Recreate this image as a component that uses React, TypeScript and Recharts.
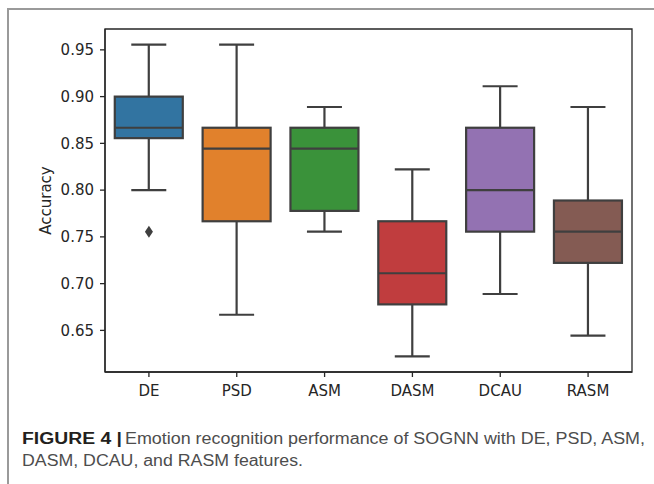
import React from "react";
import {
  ComposedChart,
  Bar,
  Scatter,
  XAxis,
  YAxis,
  ReferenceArea,
} from "recharts";

// five-number summaries
const categories = ["DE", "PSD", "ASM", "DASM", "DCAU", "RASM"];
const whiskerLow = [0.8, 0.6667, 0.7556, 0.6222, 0.6889, 0.6444];
const quartile1 = [0.8556, 0.7667, 0.7778, 0.6778, 0.7556, 0.7222];
const medians = [0.8667, 0.8444, 0.8444, 0.7111, 0.8, 0.7556];
const quartile3 = [0.9, 0.8667, 0.8667, 0.7667, 0.8667, 0.7889];
const whiskerHigh = [0.9556, 0.9556, 0.8889, 0.8222, 0.9111, 0.8889];
const outliers: (number | null)[] = [0.7556, null, null, null, null, null];
const boxColors = ["#3274a1", "#e1812c", "#3a923a", "#c03d3e", "#9372b2", "#845b53"];
const yTicks = [0.65, 0.7, 0.75, 0.8, 0.85, 0.9, 0.95];
const yDomain = [0.6055, 0.9723];

const data = categories.map((name, i) => ({
  name,
  low: whiskerLow[i],
  q1: quartile1[i],
  median: medians[i],
  q3: quartile3[i],
  high: whiskerHigh[i],
  range: [whiskerLow[i], whiskerHigh[i]],
  outlier: outliers[i],
}));

const LINE = "#3f3f3f";
const AXIS = "#262626";
const FONT = "'DejaVu Sans', sans-serif";

function BoxShape(props: any) {
  const { x, y, width, height, payload, index } = props;
  if (!payload) return <g />;
  const { low, q1, median, q3, high } = payload;
  const top = Math.min(y, y + height);
  const span = Math.abs(height);
  const k = span / (high - low);
  const py = (v: number) => top + (high - v) * k;
  const cx = x + width / 2;
  const cap = width / 4;
  return (
    <g>
      <line x1={cx} x2={cx} y1={py(high)} y2={py(q3)} stroke={LINE} strokeWidth={2.2} />
      <line x1={cx} x2={cx} y1={py(q1)} y2={py(low)} stroke={LINE} strokeWidth={2.2} />
      <line x1={cx - cap} x2={cx + cap} y1={py(high)} y2={py(high)} stroke={LINE} strokeWidth={2.2} />
      <line x1={cx - cap} x2={cx + cap} y1={py(low)} y2={py(low)} stroke={LINE} strokeWidth={2.2} />
      <rect
        x={x + 1}
        y={py(q3)}
        width={width - 2}
        height={py(q1) - py(q3)}
        fill={boxColors[index % boxColors.length]}
        stroke={LINE}
        strokeWidth={2.2}
      />
      <line x1={x + 1} x2={x + width - 1} y1={py(median)} y2={py(median)} stroke={LINE} strokeWidth={2.2} />
    </g>
  );
}

function DiamondShape(props: any) {
  const { cx, cy, payload } = props;
  if (!payload || payload.outlier == null || !isFinite(cx) || !isFinite(cy)) return <g />;
  const w = 4;
  const h = 6;
  return (
    <polygon
      points={`${cx},${cy - h} ${cx + w},${cy} ${cx},${cy + h} ${cx - w},${cy}`}
      fill={LINE}
    />
  );
}

export default function App() {
  return (
    <div
      style={{
        position: "absolute",
        left: 0,
        top: 0,
        width: 654,
        height: 484,
        background: "#fff",
        overflow: "hidden",
      }}
    >
      <div
        style={{
          position: "absolute",
          left: 7,
          top: 8,
          width: 660,
          height: 490,
          borderTop: "2px solid #9a9a9a",
          borderLeft: "2px solid #9a9a9a",
        }}
      />
      <div style={{ position: "absolute", left: 0, top: 0 }}>
        <ComposedChart
          width={654}
          height={400}
          data={data}
          margin={{ top: 29, right: 22, left: 0, bottom: 0 }}
          barCategoryGap="10%"
        >
          <XAxis
            dataKey="name"
            type="category"
            height={28}
            tickSize={5}
            tickMargin={8}
            axisLine={{ stroke: AXIS, strokeWidth: 1.3 }}
            tickLine={{ stroke: AXIS, strokeWidth: 1.3 }}
            tick={{ fill: AXIS, fontSize: 15, fontFamily: FONT }}
          />
          <YAxis
            type="number"
            domain={yDomain}
            ticks={yTicks}
            allowDataOverflow
            width={105}
            tickSize={5}
            tickMargin={6}
            tickFormatter={(v: number) => v.toFixed(2)}
            axisLine={{ stroke: AXIS, strokeWidth: 1.3 }}
            tickLine={{ stroke: AXIS, strokeWidth: 1.3 }}
            tick={{ fill: AXIS, fontSize: 15, fontFamily: FONT }}
            label={() => (
              <text
                x={45.5}
                y={200.5}
                transform="rotate(-90 45.5 200.5)"
                textAnchor="middle"
                dominantBaseline="central"
                fill={AXIS}
                fontSize={15}
                fontFamily={FONT}
              >
                Accuracy
              </text>
            )}
          />
          <ReferenceArea
            y1={yDomain[0]}
            y2={yDomain[1]}
            fill="none"
            fillOpacity={0}
            stroke={AXIS}
            strokeWidth={1.3}
            ifOverflow="visible"
          />
          <Bar dataKey="range" shape={BoxShape} isAnimationActive={false} />
          <Scatter dataKey="outlier" shape={DiamondShape} isAnimationActive={false} />
        </ComposedChart>
      </div>
      <svg
        width={654}
        height={484}
        style={{ position: "absolute", left: 0, top: 0, pointerEvents: "none" }}
      >
        <g fontFamily="'Liberation Sans', Arial, sans-serif" fontSize={16}>
          <text x={22} y={444} fill="#231f20" fontWeight="bold" textLength={100} lengthAdjust="spacingAndGlyphs">
            FIGURE 4 |
          </text>
          <text x={125} y={444} fill="#4d4d4d" textLength={520} lengthAdjust="spacingAndGlyphs">
            Emotion recognition performance of SOGNN with DE, PSD, ASM,
          </text>
          <text x={22} y={466} fill="#4d4d4d" textLength={281} lengthAdjust="spacingAndGlyphs">
            DASM, DCAU, and RASM features.
          </text>
        </g>
      </svg>
    </div>
  );
}
